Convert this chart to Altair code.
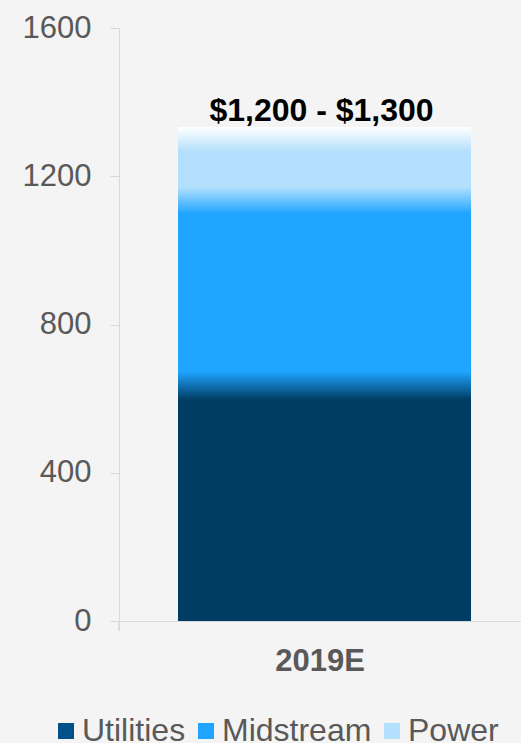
import altair as alt
import pandas as pd

# ---- data ----
years = ["2019E"]
categories = ["Utilities", "Midstream", "Power"]
values = [635, 500, 198]
range_labels = ["$1,200 - $1,300"]
y_ticks = [0, 400, 800, 1200, 1600]

# ---- styles ----
FONT = "Liberation Sans"
GRAY = "#595959"
AXIS_GRAY = "#d9d9d9"
BAR_COLORS = ["#003d64", "#1fa5ff", "#b3e0fd"]
LEGEND_COLORS = ["#00508a", "#1fa5ff", "#b3e0fd"]
BLEND = [38, 36]
TOP_FADE = 67
W, H = 402, 593

df = pd.DataFrame({
    "year": years * len(categories),
    "category": categories,
    "value": values,
    "order": list(range(len(categories))),
    "label": range_labels * len(categories),
})

# gradient stops derived from stacked boundaries
total = sum(values)
b1 = values[0]
b2 = values[0] + values[1]
stops = [
    alt.GradientStop(offset=0.0, color=BAR_COLORS[0]),
    alt.GradientStop(offset=(b1 - BLEND[0]) / total, color=BAR_COLORS[0]),
    alt.GradientStop(offset=(b1 + BLEND[0]) / total, color=BAR_COLORS[1]),
    alt.GradientStop(offset=(b2 - BLEND[1]) / total, color=BAR_COLORS[1]),
    alt.GradientStop(offset=(b2 + BLEND[1]) / total, color=BAR_COLORS[2]),
    alt.GradientStop(offset=(total - TOP_FADE) / total, color=BAR_COLORS[2]),
    alt.GradientStop(offset=1.0, color="#ffffff"),
]
gradient = alt.Gradient(gradient="linear", stops=stops, x1=0, x2=0, y1=1, y2=0)

x_axis = alt.Axis(
    title=None, labelAngle=0, labelFont=FONT, labelFontSize=31,
    labelFontWeight="bold", labelColor=GRAY, ticks=False, tickSize=0,
    labelPadding=25, domainColor=AXIS_GRAY, domainWidth=1,
)
y_scale = alt.Scale(domain=[0, 1600], nice=False)
y_axis = alt.Axis(
    values=y_ticks, format="d", title=None, grid=False, tickSize=9,
    tickColor=AXIS_GRAY, domainColor=AXIS_GRAY, labelFontSize=31,
    labelColor=GRAY, labelPadding=19, labelFont=FONT,
)

base = alt.Chart(df)

stacked = base.mark_bar(size=293, xOffset=4.5).encode(
    x=alt.X("year:N", axis=x_axis),
    y=alt.Y("value:Q", stack="zero", scale=y_scale, axis=y_axis),
    color=alt.Color(
        "category:N",
        scale=alt.Scale(domain=categories, range=LEGEND_COLORS),
        legend=alt.Legend(
            title=None, orient="none", legendX=-69, legendY=687,
            direction="horizontal", symbolType="square", symbolSize=256,
            symbolStrokeWidth=0, labelFontSize=32, labelFont=FONT,
            labelColor=GRAY, labelOffset=0, columnPadding=4, padding=0,
        ),
    ),
    order=alt.Order("order:Q"),
)

overlay = base.mark_bar(size=293, xOffset=4.5, color=gradient).encode(
    x=alt.X("year:N", axis=x_axis),
    y=alt.Y("sum(value):Q", scale=y_scale, axis=y_axis),
)

label = base.transform_aggregate(
    total="sum(value)", label="max(label)", groupby=["year"]
).mark_text(
    font=FONT, fontSize=32, fontWeight="bold", color="#000000",
    baseline="alphabetic", dy=-6, dx=1.5,
).encode(
    x=alt.X("year:N", axis=x_axis),
    y=alt.Y("total:Q", scale=y_scale, axis=y_axis),
    text="label:N",
)

corner = alt.Chart(df).mark_rule(color=AXIS_GRAY, strokeWidth=1).encode(
    x=alt.value(0), y=alt.value(H), y2=alt.value(H + 10)
)

chart = alt.layer(stacked, overlay, label, corner).properties(
    width=W, height=H,
    autosize=alt.AutoSizeParams(type="none"),
    padding={"left": 119, "top": 28, "right": 0, "bottom": 743 - 28 - H},
    background="#f4f4f4",
).configure_view(stroke="transparent")

chart.save("out.html", embed_options={"renderer": "svg", "actions": False})
